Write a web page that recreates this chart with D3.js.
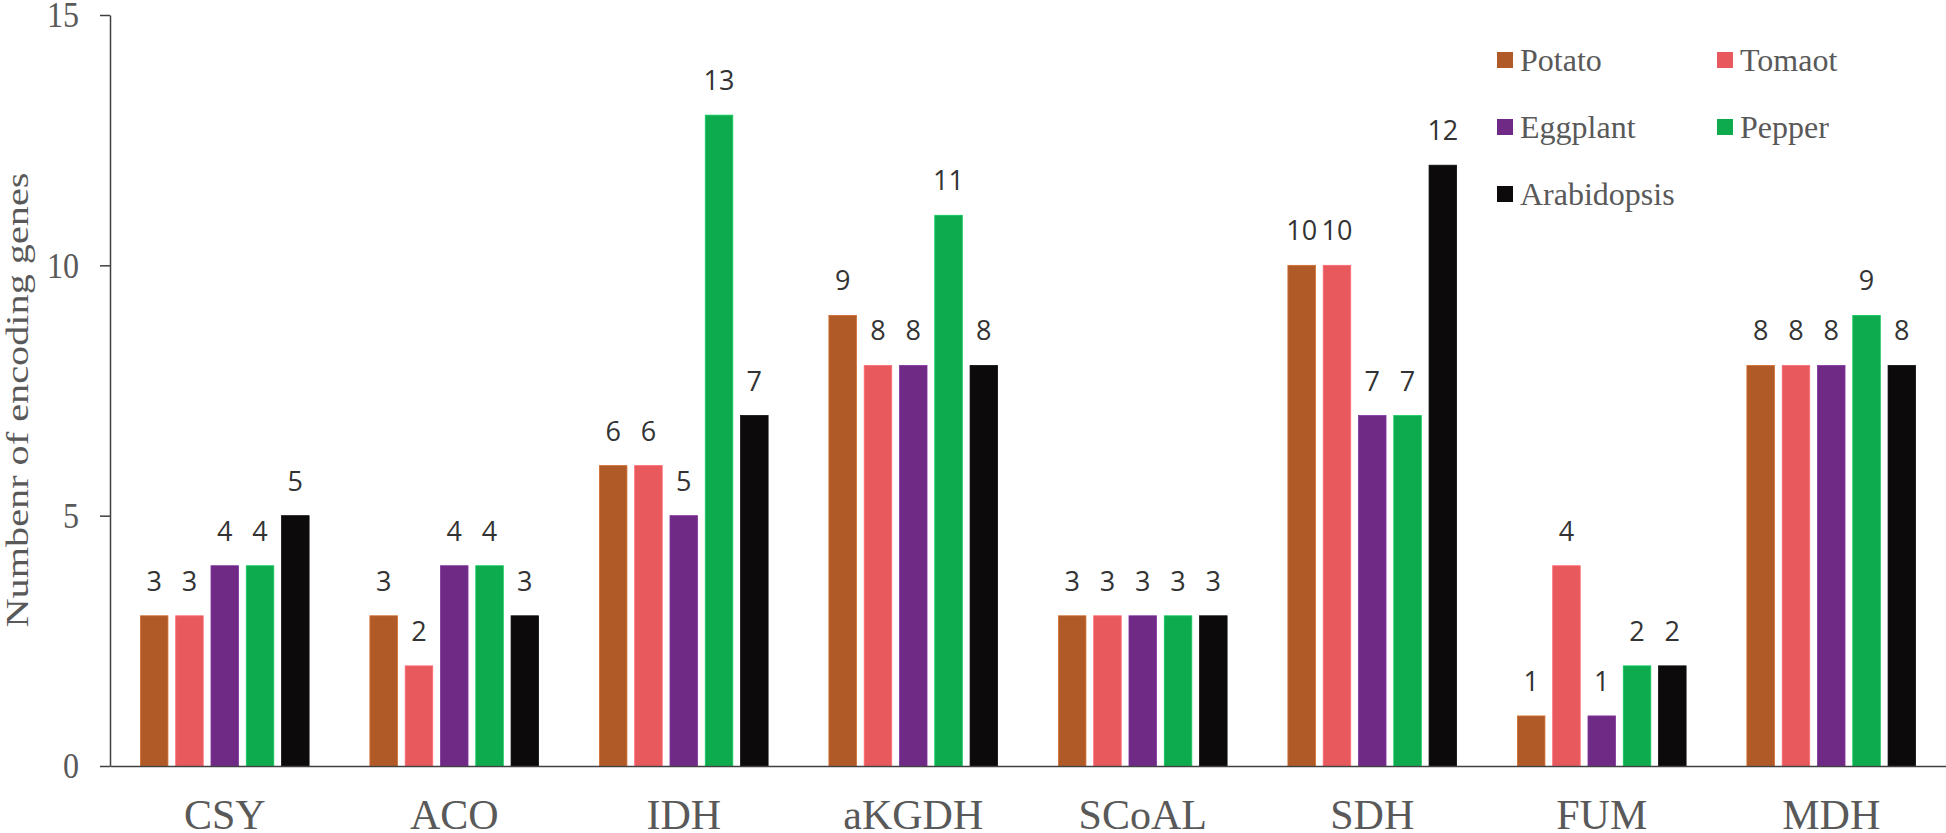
<!DOCTYPE html>
<html>
<head>
<meta charset="utf-8">
<script src="https://cdn.jsdelivr.net/npm/d3@7"></script>
<style>
  body { margin: 0; background: #fff; }
  svg { display: block; }
</style>
</head>
<body>
<div id="chart"></div>
<script>
// categories along the x axis
var enzymes = ["CSY", "ACO", "IDH", "aKGDH", "SCoAL", "SDH", "FUM", "MDH"];

// number of encoding genes per species
var potato      = [3, 3, 6, 9, 3, 10, 1, 8];
var tomato      = [3, 2, 6, 8, 3, 10, 4, 8];
var eggplant    = [4, 4, 5, 8, 3, 7, 1, 8];
var pepper      = [4, 4, 13, 11, 3, 7, 2, 9];
var arabidopsis = [5, 3, 7, 8, 3, 12, 2, 8];

var seriesNames = ["Potato", "Tomaot", "Eggplant", "Pepper", "Arabidopsis"];
var seriesValues = [potato, tomato, eggplant, pepper, arabidopsis];
var seriesColors = ["#B05A28", "#E8595E", "#6E2A85", "#0EAA4E", "#0C0A0A"];

var yTicks = [0, 5, 10, 15];

var svgWidth = 1946;
var svgHeight = 833;

var mysvg = d3.select("#chart")
    .append("svg")
    .attr("width", svgWidth)
    .attr("height", svgHeight);

// pixel positions of the plot area (window.top is taken, so plot* names)
var plotLeft = 110, plotRight = 1946, plotTop = 15, plotBottom = 766;

var scaleX = d3.scaleBand()
    .domain(enzymes)
    .range([plotLeft, plotRight])
    .padding(0);

// bars inside one category: 5 bars, ~27.5px wide on a ~35.3px step
var groupWidth = 168.7;
var scaleInner = d3.scaleBand()
    .domain(seriesNames)
    .range([(scaleX.bandwidth() - groupWidth) / 2, (scaleX.bandwidth() + groupWidth) / 2])
    .paddingInner(0.22)
    .paddingOuter(0);

var scaleY = d3.scaleLinear()
    .domain([0, 15])
    .range([plotBottom, plotTop]);

// flat table for the bars
var rows = [];
enzymes.forEach(function(e, i) {
    seriesNames.forEach(function(s, j) {
        rows.push({ enzyme: e, series: s, value: seriesValues[j][i], color: seriesColors[j] });
    });
});

var barGroup = mysvg.append("g");

barGroup.selectAll("rect")
    .data(rows)
    .enter().append("rect")
    .attr("x", d => scaleX(d.enzyme) + scaleInner(d.series))
    .attr("y", d => scaleY(d.value))
    .attr("width", scaleInner.bandwidth())
    .attr("height", d => scaleY(0) - scaleY(d.value))
    .attr("fill", d => d.color)
    .attr("stroke", d => d3.color(d.color).brighter(0.5))
    .attr("stroke-width", 0.8);

// value labels above the bars
barGroup.selectAll("text")
    .data(rows)
    .enter().append("text")
    .attr("x", d => scaleX(d.enzyme) + scaleInner(d.series) + scaleInner.bandwidth() / 2)
    .attr("y", d => scaleY(d.value) - 25)
    .attr("text-anchor", "middle")
    .style("font-family", "'Open Sans', sans-serif")
    .style("font-size", "27px")
    .attr("fill", "#333333")
    .text(d => d.value);

// left axis
var leftAxis = d3.axisLeft(scaleY)
    .tickValues(yTicks)
    .tickSize(10)
    .tickSizeOuter(0)
    .tickPadding(21);

var yAxisG = mysvg.append("g")
    .attr("transform", `translate(${plotLeft}, 0)`)
    .call(leftAxis);

yAxisG.selectAll("path, line")
    .attr("stroke", "#404040")
    .attr("stroke-width", 1.5);

yAxisG.selectAll("text")
    .style("font-family", "'Liberation Serif', 'Times New Roman', serif")
    .style("font-size", "36px")
    .attr("fill", "#595959")
    .attr("dy", "0.33em")
    .each(function() {
        // digits in the picture are a bit narrower than normal
        var len = this.getComputedTextLength();
        d3.select(this).attr("textLength", len * 0.89).attr("lengthAdjust", "spacingAndGlyphs");
    });

// bottom axis, no ticks
var bottomAxis = d3.axisBottom(scaleX)
    .tickSize(0)
    .tickSizeOuter(0)
    .tickPadding(33);

var xAxisG = mysvg.append("g")
    .attr("transform", `translate(0, ${plotBottom})`)
    .call(bottomAxis);

xAxisG.select("path")
    .attr("stroke", "#404040")
    .attr("stroke-width", 1.5);

xAxisG.selectAll("text")
    .style("font-family", "'Liberation Serif', 'Times New Roman', serif")
    .style("font-size", "42px")
    .attr("fill", "#595959");

// y axis title
mysvg.append("text")
    .attr("transform", "translate(28, 400) rotate(-90)")
    .attr("text-anchor", "middle")
    .style("font-family", "'Liberation Serif', 'Times New Roman', serif")
    .style("font-size", "32px")
    .attr("fill", "#595959")
    .attr("textLength", 455)
    .attr("lengthAdjust", "spacingAndGlyphs")
    .text("Numbenr of encoding genes");

// legend, two columns
var legendX = [1497, 1717];
var legendY = [52, 119, 186];

var legend = mysvg.append("g")
    .selectAll("g")
    .data(seriesNames)
    .enter().append("g")
    .attr("transform", (d, i) => `translate(${legendX[i % 2]}, ${legendY[Math.floor(i / 2)]})`);

legend.append("rect")
    .attr("width", 16)
    .attr("height", 16)
    .attr("fill", (d, i) => seriesColors[i]);

legend.append("text")
    .attr("x", 23)
    .attr("y", 19)
    .style("font-family", "'Liberation Serif', 'Times New Roman', serif")
    .style("font-size", "32px")
    .attr("fill", "#595959")
    .text(d => d);
</script>
</body>
</html>
